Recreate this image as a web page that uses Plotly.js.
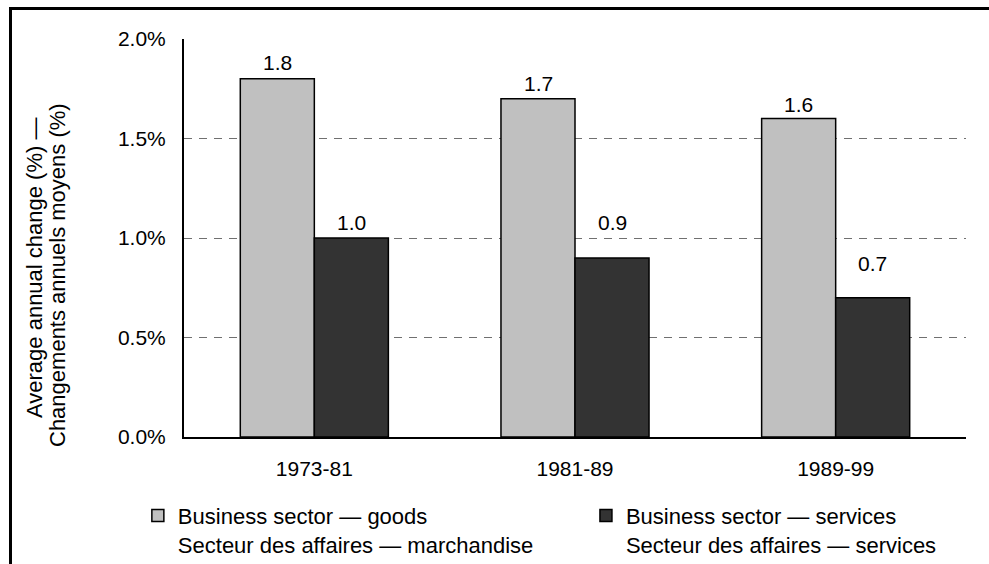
<!DOCTYPE html>
<html>
<head>
<meta charset="utf-8">
<script src="https://cdn.plot.ly/plotly-3.0.1.min.js"></script>
<style>
  html, body { margin: 0; padding: 0; background: #fff; overflow: hidden; }
  #chart { width: 989px; height: 564px; }
  #frame { position: absolute; left: 9px; top: 7px; width: 1100px; height: 700px;
           border: 3px solid #000; pointer-events: none; box-sizing: border-box; }
</style>
</head>
<body>
<div id="chart"></div>
<div id="frame"></div>
<script>
// ---- data ----
const periods = ['1973-81', '1981-89', '1989-99'];
const goodsValues = [1.8, 1.7, 1.6];
const servicesValues = [1.0, 0.9, 0.7];
const goodsName = 'Business sector \u2014 goods<br>Secteur des affaires \u2014 marchandise';
const servicesName = 'Business sector \u2014 services<br>Secteur des affaires \u2014 services';
const yTitleLines = ['Average annual change (%) \u2014', 'Changements annuels moyens (%)'];

// ---- style ----
const FONT = 'Liberation Sans, Arial, sans-serif';
const goodsLift = [16, 15, 14];
const servicesLift = [16, 35, 34];
const yTitleXShift = [-150, -127];
const yTitleYShift = [-30, -37];

const traces = [
  { type: 'bar', x: periods, y: goodsValues, name: goodsName, legend: 'legend',
    marker: { color: '#c0c0c0', line: { color: '#000', width: 1.5 } },
    hoverinfo: 'skip' },
  { type: 'bar', x: periods, y: servicesValues, name: servicesName, legend: 'legend2',
    marker: { color: '#333333', line: { color: '#000', width: 1.5 } },
    hoverinfo: 'skip' }
];

const annotations = [];
periods.forEach((p, i) => {
  annotations.push({ x: p, y: goodsValues[i], xref: 'x', yref: 'y', text: goodsValues[i].toFixed(1),
    showarrow: false, xshift: -37, yshift: goodsLift[i], yanchor: 'middle',
    font: { family: FONT, size: 21, color: '#000' } });
  annotations.push({ x: p, y: servicesValues[i], xref: 'x', yref: 'y', text: servicesValues[i].toFixed(1),
    showarrow: false, xshift: 37, yshift: servicesLift[i], yanchor: 'middle',
    font: { family: FONT, size: 21, color: '#000' } });
});
yTitleLines.forEach((line, i) => {
  annotations.push({ xref: 'paper', yref: 'paper', x: 0, y: 0.5,
    xshift: yTitleXShift[i], yshift: yTitleYShift[i],
    text: line, textangle: -90, showarrow: false, xanchor: 'center', yanchor: 'middle',
    font: { family: FONT, size: 22, color: '#000' } });
});

const legendStyle = (xPos) => ({ orientation: 'h', x: xPos, y: -0.145, xanchor: 'left', yanchor: 'top',
  valign: 'top', font: { family: FONT, size: 22, color: '#000' }, bgcolor: 'rgba(0,0,0,0)' });

const layout = {
  width: 989, height: 564,
  margin: { l: 184, r: 23, t: 39, b: 127, autoexpand: false },
  paper_bgcolor: '#fff', plot_bgcolor: '#fff',
  font: { family: FONT, size: 21, color: '#000' },
  barmode: 'group', bargap: 0.432, bargroupgap: 0,
  showlegend: true,
  legend: legendStyle(-0.059),
  legend2: legendStyle(0.514),
  xaxis: { type: 'category', showline: true, linecolor: '#000', linewidth: 2,
    ticks: '', showgrid: false, ticklabelstandoff: 12,
    tickfont: { family: FONT, size: 21, color: '#000' } },
  yaxis: { range: [0, 2.0], dtick: 0.5, tick0: 0, tickformat: '.1f', ticksuffix: '%',
    showline: true, linecolor: '#000', linewidth: 2, ticks: '', zeroline: false,
    showgrid: true, gridcolor: '#707070', gridwidth: 1, griddash: '8px,7px',
    ticklabelstandoff: 12, tickfont: { family: FONT, size: 21, color: '#000' } },
  annotations: annotations
};

Plotly.newPlot('chart', traces, layout, { staticPlot: true, displayModeBar: false });
</script>
</body>
</html>
